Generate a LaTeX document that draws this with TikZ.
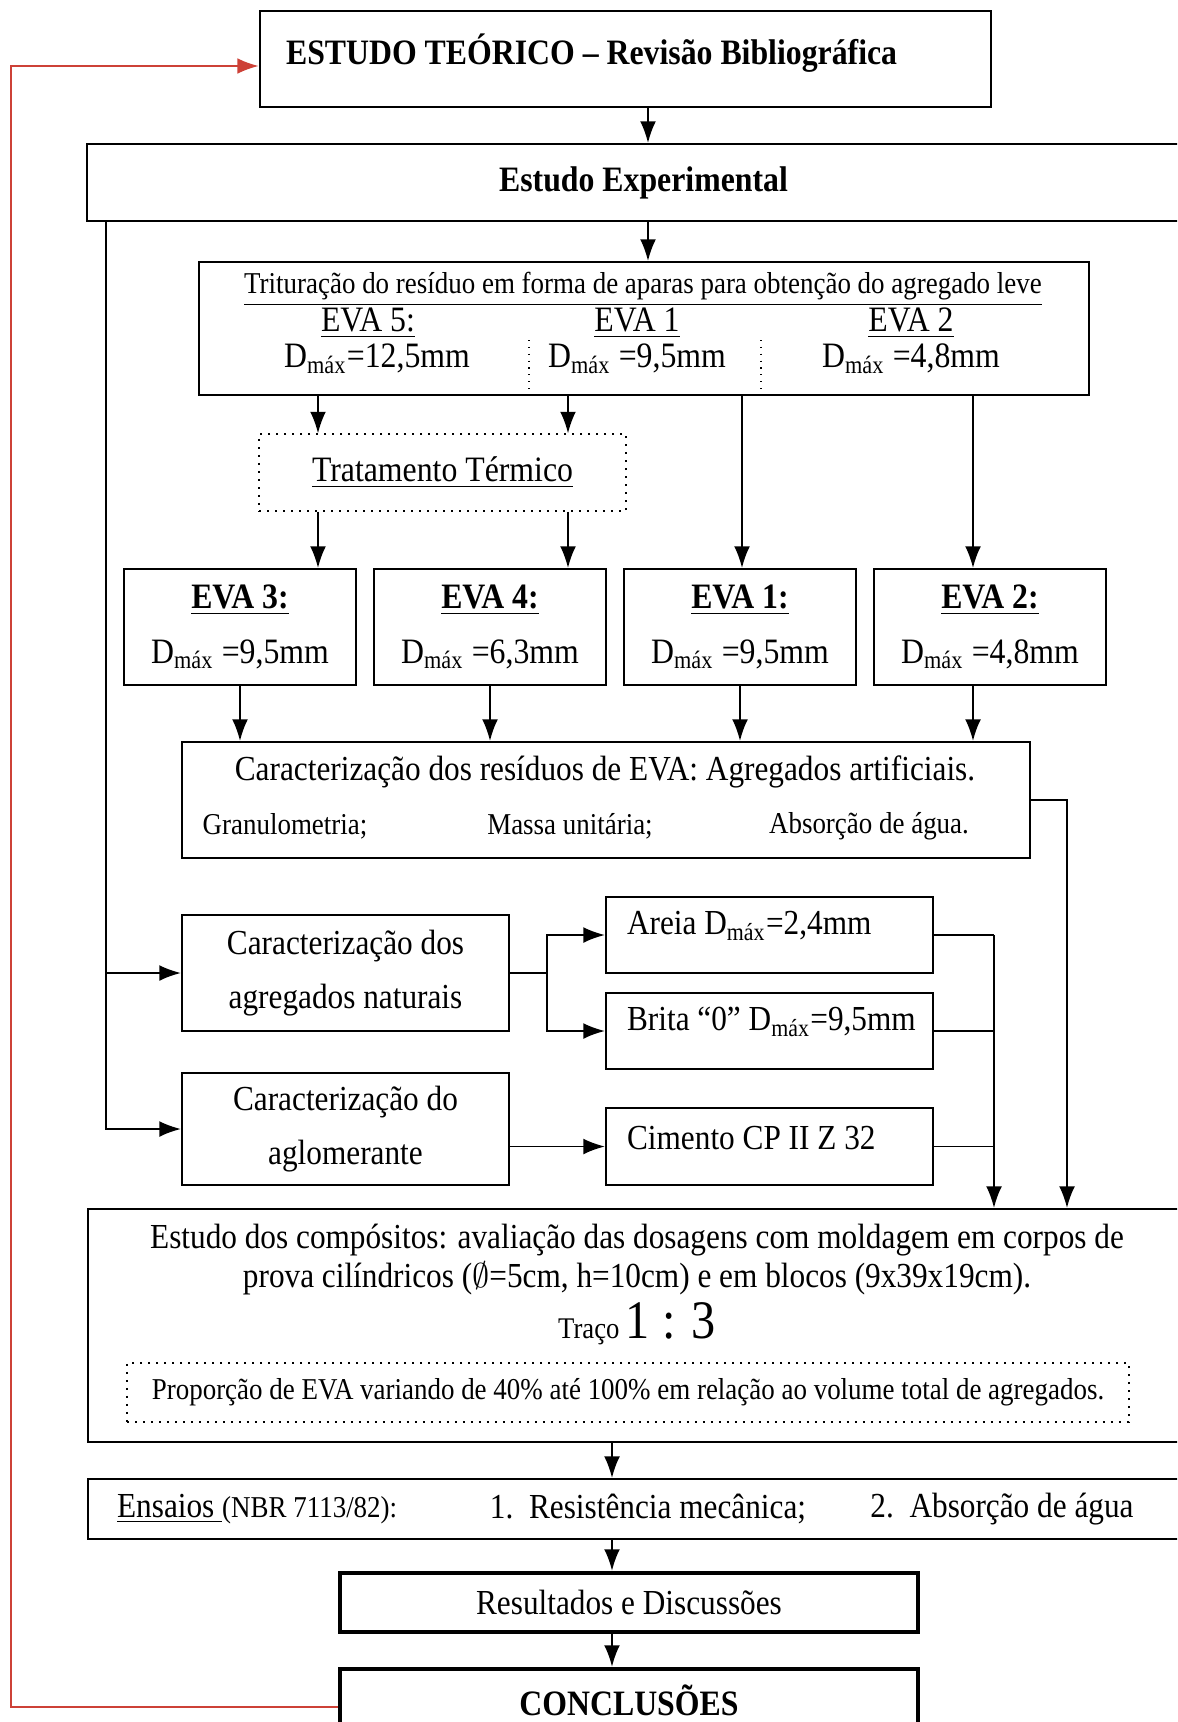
\documentclass[tikz,border=0pt]{standalone}
\usepackage{fontspec}
\setmainfont[FakeStretch=0.89]{Liberation Serif}
\usetikzlibrary{arrows.meta}
\newcommand{\Dmax}{D\textsubscript{máx}}
\definecolor{vermelho}{RGB}{205,65,55}

\begin{document}
\begin{tikzpicture}[x=0.35pt,y=-0.35pt,>={Latex[length=7.5pt,width=5.5pt]},
    caixa/.style 2 args={draw,line width=0.8pt,minimum width=#1*0.35pt,minimum height=#2*0.35pt,inner sep=0pt},
    seta/.style={->,line width=0.55pt},
    linha/.style={line width=0.55pt},
    fn/.style={font=\fontsize{12.3}{15}\selectfont},
    fp/.style={font=\fontsize{10.6}{12}\selectfont},
    fg/.style={font=\fontsize{12.5}{15}\selectfont}]
        \clip (0,0) rectangle (1177,1722);

        % Colunas
        \coordinate (tx) at (648,0);
        \coordinate (ex) at (106,0);
        \coordinate (ca) at (318,0);
        \coordinate (cb) at (568,0);
        \coordinate (cc) at (742,0);
        \coordinate (cd) at (973,0);
        \coordinate (dx) at (1067,0);
        \coordinate (bx) at (547,0);
        \coordinate (rx) at (994,0);
        \coordinate (mx) at (612,0);
        \coordinate (vx) at (11,0);
        \coordinate (ry) at (0,66);

        % Topo
        \node[caixa={731}{96}] (teorico) at (625.5,59) {};
        \node[anchor=west, font=\bfseries\fontsize{12.5}{15}\selectfont] (teoricotxt) at (276,53) {ESTUDO TEÓRICO – Revisão Bibliográfica};
        \node[caixa={1113}{77}, font=\bfseries\fontsize{12.5}{15}\selectfont] (exp) at (643.5,182.5) {Estudo Experimental};

        % Trituracao
        \node[caixa={890}{133}] (trit) at (644,328.5) {};
        \node[fp] (trittxt) at (643,289) {\underline{Trituração do resíduo em forma de aparas para obtenção do agregado leve}};
        \node[fg] (eva5a) at (368,323) {\underline{EVA 5:}};
        \node[fg] (eva1a) at (637,323) {\underline{EVA 1}};
        \node[fg] (eva2a) at (911,323) {\underline{EVA 2}};
        \node[fg] (d5) at (377,359) {\Dmax=12,5mm};
        \node[fg] (d1) at (637,359) {\Dmax{} =9,5mm};
        \node[fg] (d2) at (911,359) {\Dmax{} =4,8mm};
        \draw[dotted, line width=0.4pt] (529,340) -- (529,393);
        \draw[dotted, line width=0.4pt] (761,340) -- (761,393);

        \node[caixa={367}{77}, dotted, line width=0.5pt, fg] (trat) at (442.5,472.5) {\underline{Tratamento Térmico}};

        % EVAs
        \node[caixa={232}{116}, align=center, font=\fontsize{12.5}{19}\selectfont] (eva3) at (240,627) {\textbf{\underline{EVA 3:}}\\ \Dmax{} =9,5mm};
        \node[caixa={232}{116}, align=center, font=\fontsize{12.5}{19}\selectfont] (eva4) at (490,627) {\textbf{\underline{EVA 4:}}\\ \Dmax{} =6,3mm};
        \node[caixa={232}{116}, align=center, font=\fontsize{12.5}{19}\selectfont] (eva1) at (740,627) {\textbf{\underline{EVA 1:}}\\ \Dmax{} =9,5mm};
        \node[caixa={232}{116}, align=center, font=\fontsize{12.5}{19}\selectfont] (eva2) at (990,627) {\textbf{\underline{EVA 2:}}\\ \Dmax{} =4,8mm};

        \node[caixa={848}{116}] (car) at (606,800) {};
        \node[fn] (cartxt) at (605,772) {Caracterização dos resíduos de EVA: Agregados artificiais.};
        \node[fp] (gran) at (285,826) {Granulometria;};
        \node[fp] (massa) at (570,826) {Massa unitária;};
        \node[fp] (abs) at (869,826) {Absorção de água.};

        % Agregados naturais e aglomerante
        \node[caixa={327}{116}, align=center, font=\fontsize{12.3}{19}\selectfont] (nat) at (345.5,973) {Caracterização dos\\ agregados naturais};
        \node[caixa={327}{112}, align=center, font=\fontsize{12.3}{19}\selectfont] (aglo) at (345.5,1129) {Caracterização do\\ aglomerante};
        \node[caixa={327}{76}] (areia) at (769.5,935) {};
        \node[fn, anchor=west] (areiatxt) at (617,926) {Areia \Dmax=2,4mm};
        \node[caixa={327}{76}] (brita) at (769.5,1031) {};
        \node[fn, anchor=west] (britatxt) at (617,1022) {Brita “0” \Dmax=9,5mm};
        \node[caixa={327}{77}] (cim) at (769.5,1146.5) {};
        \node[fn, anchor=west] (cimtxt) at (617,1138) {Cimento CP II Z 32};

        % Compositos
        \node[caixa={1112}{233}] (comp) at (644,1325.5) {};
        \node[align=center, font=\fontsize{12.3}{13.7}\selectfont] (comptxt) at (637,1259.5) {Estudo dos compósitos: avaliação das dosagens com moldagem em corpos de\\ prova cilíndricos ($\emptyset$=5cm, h=10cm) e em blocos (9x39x19cm).};
        \node (traco) at (637,1324) {{\fontsize{10.5}{12}\selectfont Traço} {\fontsize{19}{22}\selectfont 1 : 3}};
        \node[caixa={1002}{59}, dotted, line width=0.5pt, fp] (prop) at (628,1392.5) {Proporção de EVA variando de 40\% até 100\% em relação ao volume total de agregados.};

        % Ensaios e fim
        \node[caixa={1112}{60}] (ens) at (644,1509) {};
        \node[fn, anchor=west] (enstxt) at (107,1509) {\underline{Ensaios\ }{\fontsize{10.6}{12}\selectfont(NBR 7113/82):}};
        \node[fn] (ens1) at (648,1509) {1.\ \ Resistência mecânica;};
        \node[fn] (ens2) at (1002,1509) {2.\ \ Absorção de água};
        \node[caixa={578}{59}, line width=1.6pt, fn] (res) at (629,1602.5) {Resultados e Discussões};
        \node[caixa={578}{76}, line width=1.6pt] (conc) at (629,1707) {};
        \node[font=\bfseries\fontsize{12.5}{15}\selectfont] (conctxt) at (629,1700) {CONCLUSÕES};

        % Setas
        \draw[seta] (teorico.south -| tx) -- (exp.north -| tx);
        \draw[seta] (exp.south -| tx) -- (trit.north -| tx);
        \draw[seta] (trit.south -| ca) -- (trat.north -| ca);
        \draw[seta] (trit.south -| cb) -- (trat.north -| cb);
        \draw[seta] (trat.south -| ca) -- (eva3.north -| ca);
        \draw[seta] (trat.south -| cb) -- (eva4.north -| cb);
        \draw[seta] (trit.south -| cc) -- (eva1.north -| cc);
        \draw[seta] (trit.south -| cd) -- (eva2.north -| cd);
        \draw[seta] (eva3.south) -- (eva3.south |- car.north);
        \draw[seta] (eva4.south) -- (eva4.south |- car.north);
        \draw[seta] (eva1.south) -- (eva1.south |- car.north);
        \draw[seta] (eva2.south -| cd) -- (car.north -| cd);
        \draw[seta] (car.east) -| (dx |- comp.north);

        \draw[seta] (exp.south -| ex) |- (aglo.west);
        \draw[seta] (ex |- nat.west) -- (nat.west);
        \draw[linha] (nat.east) -- (bx |- nat.east);
        \draw[seta] (bx |- nat.east) |- (areia.west);
        \draw[seta] (bx |- nat.east) |- (brita.west);
        \draw[seta] (aglo.east |- cim.west) -- (cim.west);
        \draw[linha] (areia.east) -- (rx |- areia.east);
        \draw[linha] (brita.east) -- (rx |- brita.east);
        \draw[linha] (cim.east) -- (rx |- cim.east);
        \draw[seta] (rx |- areia.east) -- (rx |- comp.north);

        \draw[seta] (comp.south -| mx) -- (ens.north -| mx);
        \draw[seta] (ens.south -| mx) -- (res.north -| mx);
        \draw[seta] (res.south -| mx) -- (conc.north -| mx);

        % Retorno
        \draw[->, vermelho, line width=0.8pt] (conc.west) -| (vx |- ry) -- (teorico.west |- ry);
\end{tikzpicture}
\end{document}
